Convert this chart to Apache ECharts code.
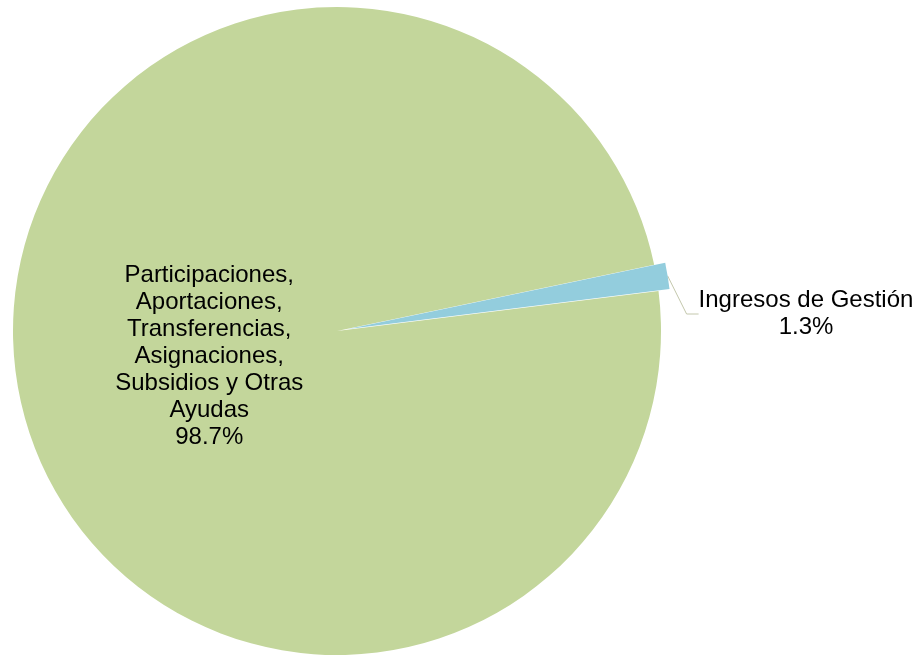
<!DOCTYPE html>
<html>
<head>
<meta charset="utf-8">
<script src="https://cdn.jsdelivr.net/npm/echarts@6/dist/echarts.min.js"></script>
<style>
  html, body { margin: 0; padding: 0; background: #fff; }
  #main { width: 921px; height: 656px; }
</style>
</head>
<body>
<div id="main"></div>
<script>
// categorias y valores (%)
var categories = [
    'Participaciones,\nAportaciones,\nTransferencias,\nAsignaciones,\nSubsidios y Otras\nAyudas',
    'Ingresos de Gestión'
];
var values = [98.7, 1.3];
var colors = ['#C3D69B', '#93CDDD'];
var explodedIndex = 1;   // segmento separado

var myChart = echarts.init(document.getElementById('main'));

function labelText(p) {
    return p.name + '\n' + p.value.toFixed(1) + '%';
}

// una serie por capa: la base y el segmento separado
function buildData(layer) {
    var out = [];
    for (var i = 0; i < categories.length; i++) {
        var visible = (i === explodedIndex) === (layer === 1);
        out.push({
            name: categories[i],
            value: values[i],
            itemStyle: { color: visible ? colors[i] : 'rgba(0,0,0,0)' },
            label: { show: visible },
            labelLine: { show: visible && layer === 1 }
        });
    }
    return out;
}

var baseSeries = {
    type: 'pie',
    center: [337, 331],
    radius: [0, 324],
    startAngle: 7.1,
    clockwise: true,
    silent: true,
    itemStyle: { borderWidth: 0 },
    label: {
        position: 'inside',
        offset: [35, -2],
        color: '#000',
        fontSize: 24,
        lineHeight: 27,
        align: 'center',
        formatter: labelText
    },
    data: buildData(0)
};

// desplazado ~11px hacia fuera
var explodedSeries = {
    type: 'pie',
    center: [348, 329],
    radius: [0, 324],
    startAngle: 7.1,
    clockwise: true,
    silent: true,
    itemStyle: { borderWidth: 0 },
    label: {
        position: 'outside',
        color: '#000',
        fontSize: 24,
        lineHeight: 27,
        align: 'center',
        overflow: 'none',
        formatter: labelText
    },
    labelLine: {
        length: 14,
        length2: 12,
        lineStyle: { color: '#c4c8ad', width: 1 }
    },
    labelLayout: function (params) {
        return { x: 806, y: 314, align: 'center', verticalAlign: 'middle' };
    },
    data: buildData(1)
};

myChart.setOption({
    backgroundColor: '#ffffff',
    animation: false,
    textStyle: { fontFamily: '"Liberation Sans", Arial, sans-serif' },
    series: [baseSeries, explodedSeries]
});
</script>
</body>
</html>
